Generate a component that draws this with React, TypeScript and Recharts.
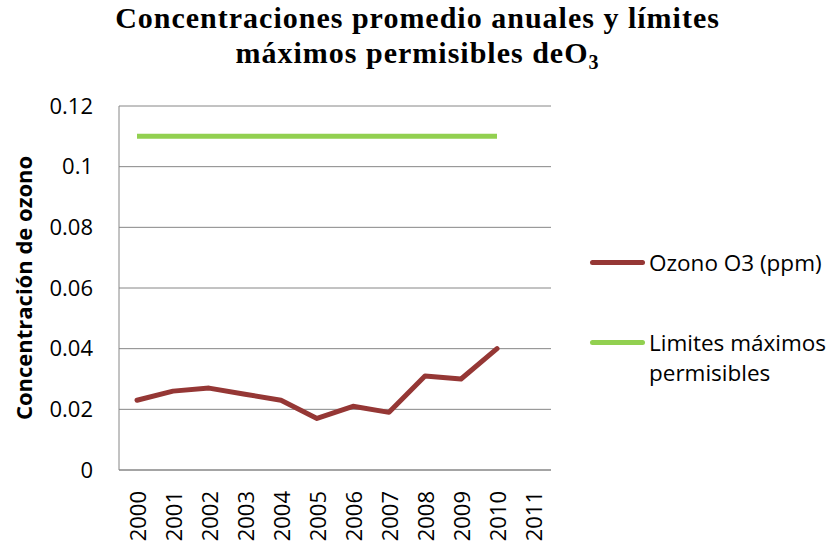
import React from 'react';
import { LineChart, Line, XAxis, YAxis, CartesianGrid } from 'recharts';

const years = ['2000', '2001', '2002', '2003', '2004', '2005', '2006', '2007', '2008', '2009', '2010', '2011'];
const ozono = [0.023, 0.026, 0.027, 0.025, 0.023, 0.017, 0.021, 0.019, 0.031, 0.030, 0.040, null];
const limite = [0.11, 0.11, 0.11, 0.11, 0.11, 0.11, 0.11, 0.11, 0.11, 0.11, 0.11, null];
const yTicks = [0, 0.02, 0.04, 0.06, 0.08, 0.1, 0.12];

const data = years.map((y, i) => ({ year: y, ozono: ozono[i], limite: limite[i] }));

const OZONE_COLOR = '#953735';
const LIMIT_COLOR = '#92D050';
const FONT = '"Open Sans", "Noto Sans", sans-serif';

// rotated year labels, reading bottom to top
const YearTick = (props: any) => {
    const { x, y, payload } = props;
    return (
        <text
            x={x}
            y={y + 13}
            transform={`rotate(-90, ${x}, ${y + 13})`}
            textAnchor="end"
            dominantBaseline="central"
            fontSize={22}
            fontFamily={FONT}
            fill="#000"
        >
            {payload.value}
        </text>
    );
};

const legendText: React.CSSProperties = {
    position: 'absolute',
    left: 649,
    fontFamily: FONT,
    fontSize: 22.5,
    lineHeight: '30px',
    color: '#000',
    whiteSpace: 'nowrap',
};

const App: React.FC = () => {
    return (
        <div style={{ position: 'absolute', left: 0, top: 0, width: 835, height: 546, background: '#fff' }}>
            <div
                style={{
                    position: 'absolute',
                    left: 0,
                    top: 0,
                    width: 835,
                    textAlign: 'center',
                    fontFamily: '"Liberation Serif", "DejaVu Serif", serif',
                    fontWeight: 'bold',
                    fontSize: 30,
                    letterSpacing: 1,
                    lineHeight: '35px',
                    color: '#000',
                }}
            >
                <div>Concentraciones promedio anuales y límites</div>
                <div>
                    máximos permisibles deO<sub style={{ fontSize: 20, verticalAlign: -6, lineHeight: 0 }}>3</sub>
                </div>
            </div>

            <LineChart width={835} height={546} data={data} margin={{ top: 106, right: 284, bottom: 0, left: 0 }}>
                <CartesianGrid vertical={false} stroke="#868686" strokeWidth={1} />
                <XAxis
                    dataKey="year"
                    height={76}
                    interval={0}
                    padding={{ left: 18, right: 18 }}
                    tick={<YearTick />}
                    tickLine={false}
                    stroke="#868686"
                />
                <YAxis
                    width={119}
                    domain={[0, 0.12]}
                    ticks={yTicks}
                    tickFormatter={(v: number) => String(v)}
                    tickLine={false}
                    tickSize={0}
                    tickMargin={26}
                    stroke="#868686"
                    tick={{ fill: '#000', fontSize: 22, fontFamily: FONT }}
                    label={{
                        value: 'Concentración de ozono',
                        angle: -90,
                        position: 'center',
                        dx: -35,
                        style: { fontFamily: FONT, fontWeight: 'bold', fontSize: 22, fill: '#000' },
                    }}
                />
                <Line
                    type="linear"
                    dataKey="limite"
                    stroke={LIMIT_COLOR}
                    strokeWidth={5}
                    dot={false}
                    isAnimationActive={false}
                />
                <Line
                    type="linear"
                    dataKey="ozono"
                    stroke={OZONE_COLOR}
                    strokeWidth={5}
                    strokeLinecap="round"
                    strokeLinejoin="round"
                    dot={false}
                    isAnimationActive={false}
                />
            </LineChart>

            <div style={{ position: 'absolute', left: 590, top: 260, width: 55, height: 5, borderRadius: 2.5, background: OZONE_COLOR }} />
            <div style={{ ...legendText, top: 248 }}>Ozono O3 (ppm)</div>
            <div style={{ position: 'absolute', left: 590, top: 340, width: 55, height: 5, borderRadius: 2.5, background: LIMIT_COLOR }} />
            <div style={{ ...legendText, top: 328 }}>
                Limites máximos
                <br />
                permisibles
            </div>
        </div>
    );
};

export default App;
